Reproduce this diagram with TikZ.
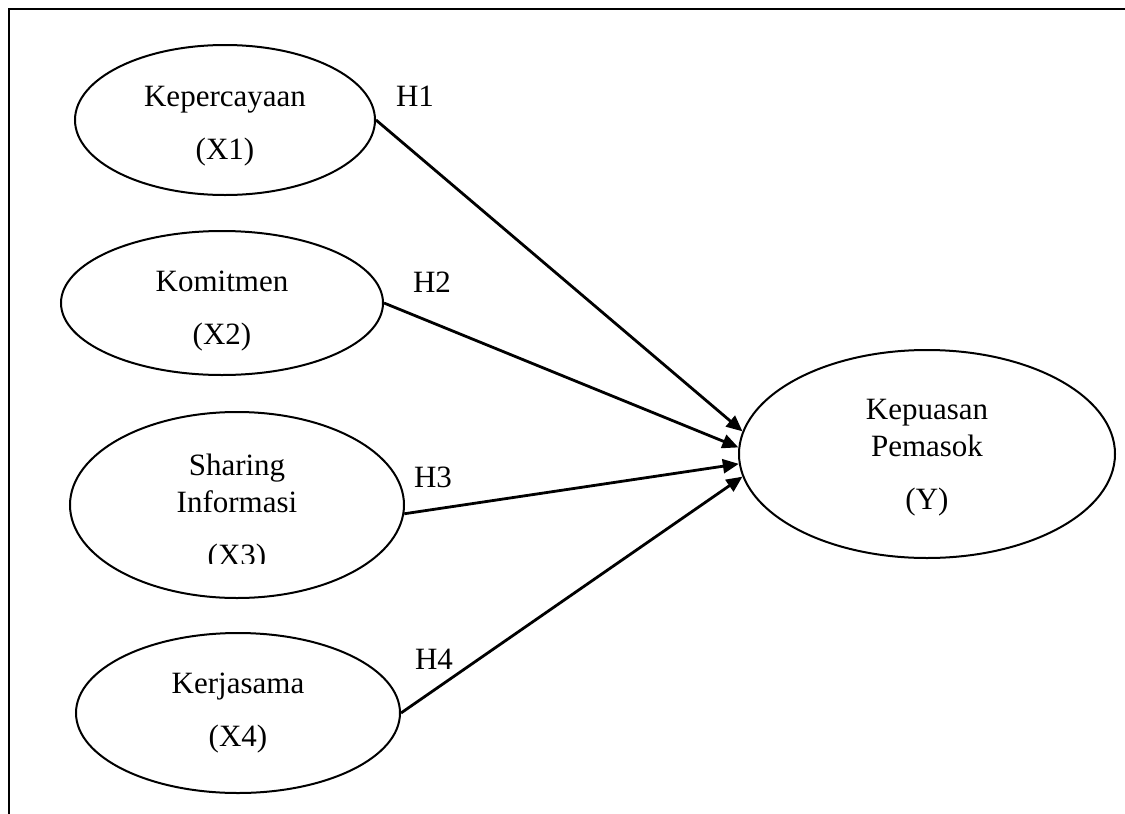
\documentclass[tikz,border=0pt]{standalone}
\usepackage{fontspec}
\setmainfont{Liberation Serif}
\usetikzlibrary{arrows.meta,shapes.geometric}

\tikzset{
  var/.style={draw, ellipse, line width=1pt, inner sep=0pt, align=center,
    font=\fontsize{15.5}{18.5}\selectfont},
  hyp/.style={-{Triangle[length=8pt,width=7pt]}, line width=1.4pt},
  hlabel/.style={font=\fontsize{15.5}{18.5}\selectfont}
}

\begin{document}
\begin{tikzpicture}[x=0.5pt,y=-0.5pt]
    \useasboundingbox (0,0) rectangle (1125,814);
    % frame
    \draw[line width=1.2pt] (9,9) rectangle (1140,830);

    % variables
    \node[var, minimum width=150pt, minimum height=75pt] (e1) at (225,120) {\rule{0pt}{16pt}Kepercayaan\\[8pt](X1)};
    \node[var, minimum width=161pt, minimum height=72pt] (e2) at (222,303) {\rule{0pt}{18pt}Komitmen\\[8pt](X2)};
    \node[var, minimum width=167pt, minimum height=93pt] (e3) at (237,505) {};
    \node[var, minimum width=162pt, minimum height=80pt] (e4) at (238,713) {Kerjasama\\[8pt](X4)};
    \node[var, minimum width=188pt, minimum height=104pt] (y) at (927,454) {\rule{0pt}{14pt}Kepuasan\\Pemasok\\[8pt](Y)};

    % text of X3, cut off at the bottom
    \node[var, draw=none, anchor=base] (e3txt) at (237,512) {Sharing\\Informasi};
    \begin{scope}
      \clip (150,530) rectangle (330,563);
      \node[var, draw=none, anchor=base] (x3) at (237,565) {(X3)};
    \end{scope}

    % hypotheses
    \foreach \s/\t in {e1.east/173, e2.east/178, e3.-3/183, e4.east/187}
        \draw[hyp] (\s) -- (y.\t);
    \foreach \n/\x/\y in {1/415/96, 2/432/282, 3/433/477, 4/434/659}
        \node[hlabel] (h\n) at (\x,\y) {H\n};
\end{tikzpicture}
\end{document}
